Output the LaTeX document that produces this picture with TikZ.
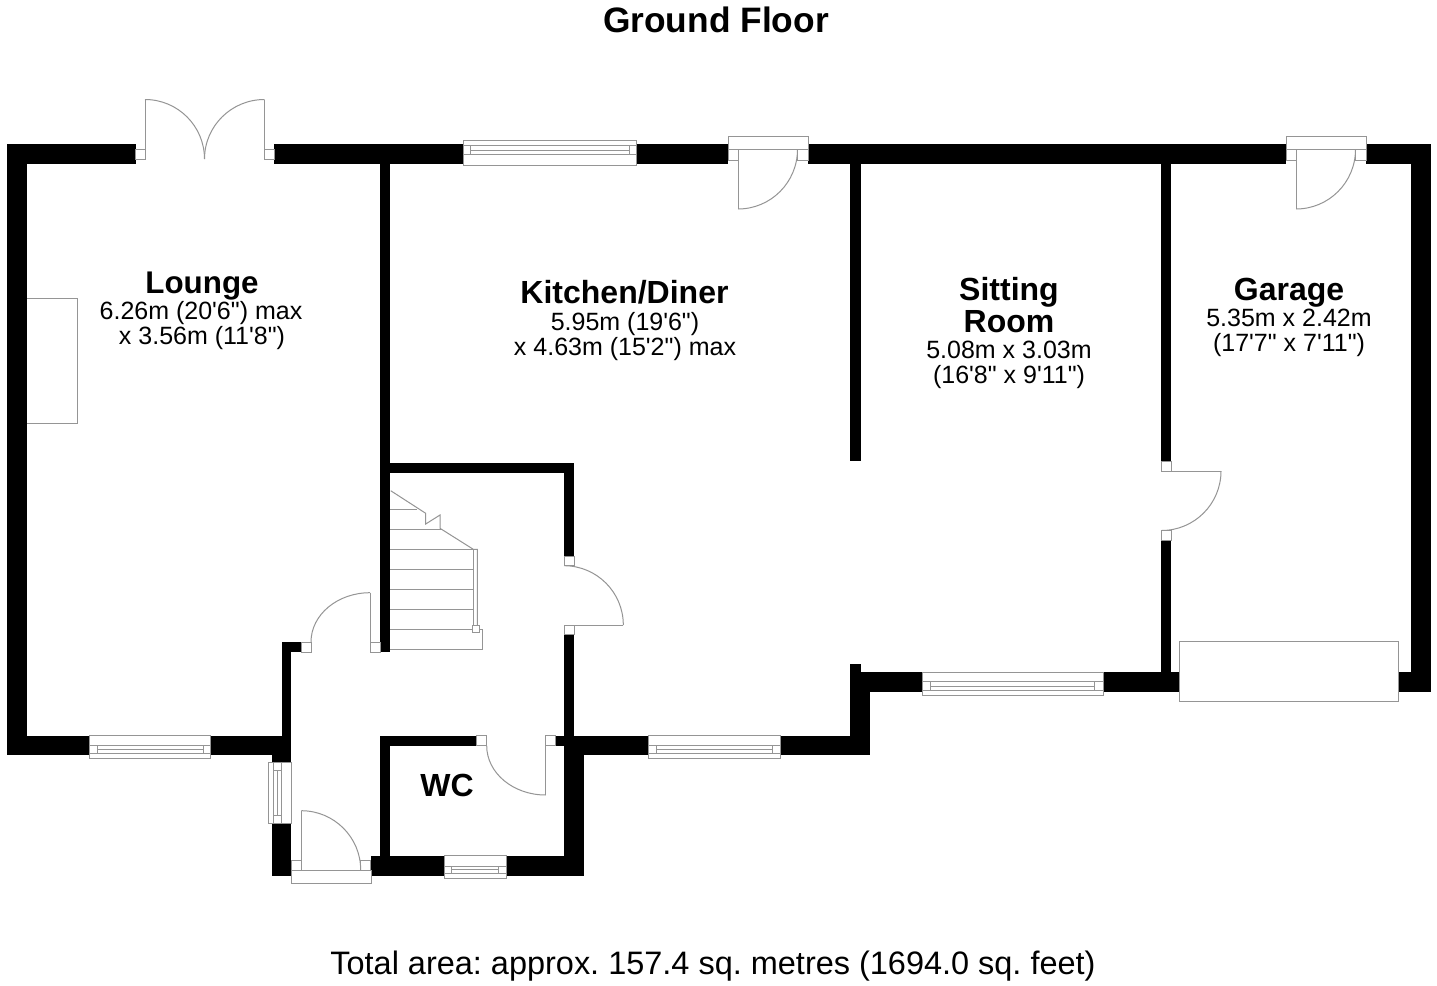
\documentclass[tikz,border=0pt]{standalone}
\usepackage{fontspec}
\setmainfont{Liberation Sans}[Ligatures=TeXOff]
\usetikzlibrary{calc}
\tikzset{
  wall/.style={fill=black,draw=none},
  thin line/.style={draw=linegray,line width=0.75pt},
  openbox/.style={draw=linegray,line width=0.75pt,fill=white},
  roomname/.style={anchor=base,inner sep=0pt,font=\frenchspacing\fontsize{24}{26}\selectfont\bfseries},
  roomdim/.style={anchor=base,inner sep=0pt,font=\frenchspacing\fontsize{18.75}{22}\selectfont},
}
\definecolor{linegray}{HTML}{959595}
\newcommand{\rr}[4]{\fill[wall] (#1,#2) rectangle (#3,#4);}
% horizontal window: x1 x2 ytop ybot l1 l2 l3 tick1 tick2
\newcommand{\hwin}[9]{%
  \draw[openbox] (#1,#3) rectangle (#2,#4);
  \draw[thin line] (#1,#5) -- (#2,#5) (#1,#7) -- (#2,#7) (#8,#6) -- (#9,#6)
    (#8,#5) -- (#8,#7) (#9,#5) -- (#9,#7);}
\newcommand{\qa}[3]{(#1) .. controls ($(#1)!.5523!(#2)$) and ($(#3)!.5523!(#2)$) .. (#3)}
\begin{document}
\begin{tikzpicture}[x=0.75pt,y=-0.75pt]
\useasboundingbox (0,0) rectangle (1437,985);
\fill[white] (0,0) rectangle (1437,985);

% chimney breast
\draw[thin line] (27,298.7) -- (77,298.7) -- (77,423.5) -- (27,423.5);

% walls
\rr{7}{144}{135.5}{164.3}
\rr{274}{144}{463}{164.3}
\rr{636}{144}{728}{164.3}
\rr{808}{144}{1286}{164.3}
\rr{1366}{144}{1431}{164.3}
\rr{7}{144}{27}{755.3}
\rr{7}{735.5}{89.3}{755.3}
\rr{210.7}{735.5}{291.3}{755.3}
\rr{380}{164}{390}{652.3}
\rr{380}{462.7}{574}{473.3}
\rr{564}{462.7}{574}{556}
\rr{564}{634.7}{574}{745}
\rr{850}{164}{860.6}{460.7}
\rr{1161}{164}{1171}{461.7}
\rr{1161}{540.5}{1171}{692}
\rr{1411}{144}{1431}{692}
\rr{1398}{672}{1431}{692}
\rr{850}{664}{860.6}{692}
\rr{850}{672}{922.5}{692}
\rr{1103}{672}{1179}{692}
\rr{850}{672}{870}{755.3}
\rr{574}{735.7}{648.3}{755.3}
\rr{780}{735.7}{870}{755.3}
\rr{564}{735.7}{584}{875.7}
\rr{555.7}{735.7}{584}{745.7}
\rr{380}{735.7}{476.7}{745.7}
\rr{380}{735.7}{390}{856}
\rr{371}{855.7}{444}{875.7}
\rr{506.7}{855.7}{584}{875.7}
\rr{281.7}{642}{291.3}{755.3}
\rr{281.7}{642}{301.3}{652.3}
\rr{271.7}{755}{291.3}{762.7}
\rr{271.7}{823.3}{291.3}{875.7}

% windows
\hwin{463}{636}{140.7}{165}{145.7}{150.3}{154.3}{470.7}{629}
\hwin{89.3}{210.7}{735.3}{758.7}{745}{749}{753.3}{97.3}{203.3}
\hwin{648.3}{780}{735.3}{758.7}{745}{749}{753.3}{656}{772}
\hwin{922.5}{1103}{672}{695}{681.7}{686}{690}{930.3}{1094.5}
\hwin{444}{506.7}{855.7}{878.7}{866}{869.5}{873.3}{451.7}{498.7}
% side window
\draw[openbox] (268,762.7) rectangle (291.3,823.3);
\draw[thin line] (273.3,762.7) -- (273.3,823.3) (281.3,762.7) -- (281.3,823.3)
  (277.3,770) -- (277.3,815) (273.3,770) -- (281.3,770) (273.3,815) -- (281.3,815);

% french doors
\draw[openbox] (135.5,149) rectangle (145,159.5);
\draw[openbox] (264.5,149) rectangle (274,159.5);
\draw[thin line] (145,149) -- (145,99.5);
\draw[thin line] (264.5,149) -- (264.5,99.5);
\draw[thin line] \qa{145,99.5}{204.5,99.5}{204.5,159};
\draw[thin line] \qa{264.5,99.5}{204.5,99.5}{204.5,159};

% back doors
\foreach \d in {0,558}{
  \draw[openbox] (728+\d,136) rectangle (808+\d,149.3);
  \draw[openbox] (728+\d,149.3) rectangle (738+\d,160);
  \draw[openbox] (797.5+\d,149.3) rectangle (808+\d,160);
  \draw[thin line] (738+\d,149.3) -- (738+\d,209);
  \draw[thin line] \qa{738+\d,209}{797.5+\d,209}{797.5+\d,149.3};
}

% sitting room / garage door
\draw[openbox] (1161,461.7) rectangle (1171,471);
\draw[openbox] (1161,530.5) rectangle (1171,540.5);
\draw[thin line] (1171,471) -- (1221,471);
\draw[thin line] \qa{1221,471}{1221,530.5}{1161.5,530.5};

% hall / kitchen door
\draw[openbox] (564.7,556) rectangle (574,565.7);
\draw[openbox] (564.7,625) rectangle (574,634.7);
\draw[thin line] (574,625) -- (623.3,625);
\draw[thin line] \qa{623.3,625}{623.3,565.7}{564,565.7};

% hall / lounge door
\draw[openbox] (370,642) rectangle (380,652.3);
\draw[openbox] (301.3,642) rectangle (311.3,652.3);
\draw[thin line] (370,642) -- (370,592.7);
\draw[thin line] \qa{370,592.7}{311,592.7}{311,642};

% WC door
\draw[openbox] (476.7,735.7) rectangle (486.7,745.7);
\draw[openbox] (545.7,735.7) rectangle (555.7,745.7);
\draw[thin line] (545.7,745.7) -- (545.7,795);
\draw[thin line] \qa{486.7,745.7}{486.7,795}{545.7,795};

% front door
\draw[openbox] (291.5,870.7) rectangle (371,883.3);
\draw[openbox] (291.5,860) rectangle (301.3,870.7);
\draw[openbox] (360.7,860) rectangle (370.7,870.7);
\draw[thin line] (301.3,860) -- (301.3,810.7);
\draw[thin line] \qa{301.3,810.7}{360.7,810.7}{360.7,870};

% garage door
\draw[openbox] (1179,641.7) rectangle (1398.3,701.7);

% stairs
\draw[thin line] (390,509.3) -- (416.7,509.3)
  (390,529.3) -- (441.7,529.3)
  (390,549.3) -- (473.3,549.3)
  (390,569.3) -- (473.3,569.3)
  (390,589) -- (473.3,589)
  (390,609) -- (473.3,609)
  (390,629) -- (482.3,629) -- (482.3,649) -- (390,649);
\draw[thin line] (390.7,490.7) -- (425.7,513.3) -- (425.7,524) -- (440,515) -- (440,528.3) -- (473.3,549.3) -- (477.3,549.3) -- (477.3,625.7);
\draw[thin line] (473.3,549.3) -- (473.3,625.7);
\draw[openbox] (472.3,625.7) rectangle (479,632.3);

% texts
\node[anchor=base,inner sep=0pt,font=\frenchspacing\fontsize{26.5}{30}\selectfont\bfseries] (title) at (716,32) {Ground Floor};
\node[anchor=base,inner sep=0pt,font=\frenchspacing\fontsize{24.35}{28}\selectfont] (total) at (713,974) {Total area: approx. 157.4 sq. metres (1694.0 sq. feet)};

\node[roomname,font=\frenchspacing\fontsize{23.5}{26}\selectfont\bfseries] (lounge) at (202,293.5) {Lounge};
\node[roomdim] (loungeA) at (201,319.3) {6.26m (20'6") max};
\node[roomdim] (loungeB) at (202,344) {x 3.56m (11'8")};

\node[roomname] (kitchen) at (624.5,303) {Kitchen/Diner};
\node[roomdim] (kitchenA) at (625,330) {5.95m (19'6")};
\node[roomdim] (kitchenB) at (625,355) {x 4.63m (15'2") max};

\node[roomname] (sittingA) at (1009,300) {Sitting};
\node[roomname] (sittingB) at (1009,332) {Room};
\node[roomdim] (sittingC) at (1009,358) {5.08m x 3.03m};
\node[roomdim] (sittingD) at (1009,383) {(16'8" x 9'11")};

\node[roomname] (garage) at (1289,300) {Garage};
\node[roomdim] (garageA) at (1289,326) {5.35m x 2.42m};
\node[roomdim] (garageB) at (1289,351) {(17'7" x 7'11")};

\node[roomname] (wc) at (447,796.7) {WC};
\end{tikzpicture}
\end{document}
